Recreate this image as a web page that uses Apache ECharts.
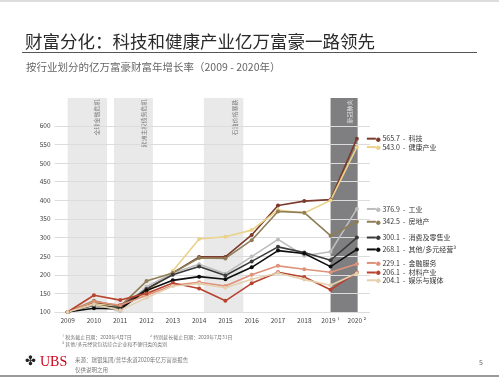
<!DOCTYPE html>
<html>
<head>
<meta charset="utf-8">
<script src="https://cdn.jsdelivr.net/npm/echarts@6/dist/echarts.min.js"></script>
<style>
  html, body { margin: 0; padding: 0; background: #fff; }
  #chart { width: 499px; height: 377px; }
</style>
</head>
<body>
<div id="chart"></div>
<script>
// 年份
var years = ['2009', '2010', '2011', '2012', '2013', '2014', '2015', '2016', '2017', '2018', '2019 ¹', '2020 ²'];

// 各行业财富指数 (2009 = 100)
var tech      = [100, 125, 118, 160, 205, 248, 248, 307, 386, 398, 402, 565.7];
var health    = [100, 122, 112, 152, 210, 296, 302, 320, 374, 366, 400, 543.0];
var industry  = [100, 120, 102, 168, 205, 228, 203, 249, 295, 251, 262, 376.9];
var realty    = [100, 130, 115, 183, 205, 245, 244, 293, 370, 367, 305, 342.5];
var consumer  = [100, 118, 112, 162, 200, 222, 198, 236, 275, 260, 239, 300.1];
var diversified = [100, 110, 108, 158, 185, 195, 188, 220, 265, 257, 222, 268.1];
var finance   = [100, 128, 118, 145, 172, 180, 170, 200, 224, 215, 207, 229.1];
var materials = [100, 145, 132, 150, 178, 163, 130, 177, 207, 194, 160, 206.1];
var media     = [100, 120, 105, 138, 170, 176, 165, 188, 205, 187, 172, 204.1];

var seriesNames = ['科技', '健康产业', '工业', '房地产', '消费及零售业', '其他/多元经营³', '金融服务', '材料产业', '娱乐与媒体'];
var seriesData = [tech, health, industry, realty, consumer, diversified, finance, materials, media];
var seriesColors = ['#7b3a2b', '#ead28a', '#bdbdbd', '#8e7d56', '#3a3a3a', '#0d0d0d', '#df9279', '#b8432f', '#e4d0ae'];
var labelShift = [0, 0, 0, 0, 0, 0, -1, 0, 7];

// 危机区间 (年份)
var bandText  = ['全球金融危机', '欧洲主权债务危机', '石油价格暴跌', '新冠肺炎'];
var bandStart = [2009, 2010.76, 2014.18, 2019.0];
var bandEnd   = [2010.5, 2012.24, 2015.68, 2020.03];
var bandTextAt = [2010.12, 2011.9, 2015.36, 2019.73];

var font = '"Noto Sans CJK SC", "Noto Sans", sans-serif';

var lineSeries = seriesNames.map(function (name, i) {
  return {
    name: name,
    type: 'line',
    data: seriesData[i],
    z: 3,
    symbol: 'circle',
    symbolSize: 4,
    lineStyle: { width: 1.6, color: seriesColors[i] },
    itemStyle: { color: seriesColors[i] },
    endLabel: {
      show: true,
      distance: 10,
      offset: [0, labelShift[i]],
      fontFamily: font,
      fontSize: 7,
      color: '#333',
      formatter: function (p) {
        return '{ln|}{dot|●}' + ' ' + Number(p.value).toFixed(1) + '  -  ' + p.seriesName;
      },
      rich: {
        ln: { width: 9, height: 2, backgroundColor: seriesColors[i] },
        dot: { fontSize: 5, color: seriesColors[i] }
      }
    }
  };
});

var bandSeries = {
  type: 'scatter',
  xAxisIndex: 1,
  z: -5,
  symbolSize: 1,
  itemStyle: { color: 'rgba(0,0,0,0)' },
  silent: true,
  data: bandText.map(function (t, i) {
    return {
      value: [bandTextAt[i] - 2009, 671],
      name: t,
      label: { color: i === 3 ? '#f2f2f2' : '#666' }
    };
  }),
  label: {
    show: true,
    position: 'inside',
    rotate: 90,
    align: 'right',
    verticalAlign: 'middle',
    fontFamily: font,
    fontSize: 6,
    formatter: function (p) { return p.name; }
  },
  labelLayout: { hideOverlap: false },
  markArea: {
    silent: true,
    z: -5,
    data: bandText.map(function (t, i) {
      return [
        { xAxis: bandStart[i] - 2009, yAxis: 100, itemStyle: { color: i === 3 ? '#7f7f81' : '#e9e9e9' } },
        { xAxis: bandEnd[i] - 2009, yAxis: 675 }
      ];
    })
  }
};

var option = {
  backgroundColor: '#fff',
  animation: false,
  title: [
    { text: '财富分化：科技和健康产业亿万富豪一路领先', left: 20, top: 28,
      textStyle: { fontFamily: font, fontSize: 17.5, fontWeight: 'normal', color: '#2a2a2a' } },
    { text: '按行业划分的亿万富豪财富年增长率（2009 - 2020年）', left: 21, top: 57,
      textStyle: { fontFamily: font, fontSize: 10.5, fontWeight: 'normal', color: '#666' } },
    { text: '¹ 税务截止日期：2020年4月7日', left: 57, top: 330,
      textStyle: { fontFamily: font, fontSize: 5, fontWeight: 'normal', color: '#777' } },
    { text: '² 特别延长截止日期：2020年7月31日', left: 145, top: 330,
      textStyle: { fontFamily: font, fontSize: 5, fontWeight: 'normal', color: '#777' } },
    { text: '³ 其他/多元经营包括综合企业和不便归类的类别', left: 57, top: 337,
      textStyle: { fontFamily: font, fontSize: 5, fontWeight: 'normal', color: '#777' } },
    { text: '✤', left: 20, top: 350,
      textStyle: { fontFamily: 'DejaVu Sans', fontSize: 13, fontWeight: 'normal', color: '#222' } },
    { text: 'UBS', left: 35, top: 350,
      textStyle: { fontFamily: '"Liberation Serif", serif', fontSize: 14, fontWeight: 'normal', color: '#d0021b' } },
    { text: '来源：瑞银集团/普华永道2020年亿万富豪报告', left: 70, top: 352,
      textStyle: { fontFamily: font, fontSize: 5.5, fontWeight: 'normal', color: '#777' } },
    { text: '仅供说明之用', left: 70, top: 362,
      textStyle: { fontFamily: font, fontSize: 5.5, fontWeight: 'normal', color: '#777' } },
    { text: '5', left: 474, top: 354,
      textStyle: { fontFamily: font, fontSize: 7, fontWeight: 'normal', color: '#666' } }
  ],
  graphic: [
    { type: 'line', shape: { x1: 22, y1: 52.5, x2: 477, y2: 52.5 }, style: { stroke: '#555', lineWidth: 1 } },
    { type: 'line', shape: { x1: 0, y1: 1, x2: 499, y2: 1 }, style: { stroke: '#dcdcdc', lineWidth: 2 } },
    { type: 'line', shape: { x1: 0, y1: 376, x2: 499, y2: 376 }, style: { stroke: '#9a9a9a', lineWidth: 2 } }
  ],
  grid: { left: 54.5, right: 129, top: 98, bottom: 65 },
  xAxis: [
    {
      type: 'category',
      data: years,
      boundaryGap: true,
      axisLine: { show: false },
      axisTick: { show: false },
      axisLabel: { fontFamily: font, fontSize: 6.5, color: '#444', margin: 5 }
    },
    { type: 'value', min: -0.5, max: 11.5, show: false }
  ],
  yAxis: {
    type: 'value',
    min: 100,
    max: 675,
    interval: 50,
    z: 2.5,
    axisLine: { show: false },
    axisTick: { show: false },
    axisLabel: {
      fontFamily: font, fontSize: 6.5, color: '#444', margin: 4,
      formatter: function (v) { return v > 600 ? '' : v; }
    },
    splitLine: {
      lineStyle: {
        width: 1,
        color: ['#dcdcdc', '#dcdcdc', '#dcdcdc', '#dcdcdc', '#dcdcdc', '#dcdcdc',
                '#dcdcdc', '#dcdcdc', '#dcdcdc', '#dcdcdc', '#dcdcdc', 'rgba(0,0,0,0)', 'rgba(0,0,0,0)']
      }
    }
  },
  series: [bandSeries].concat(lineSeries)
};

var chart = echarts.init(document.getElementById('chart'));
chart.setOption(option);
</script>
</body>
</html>
